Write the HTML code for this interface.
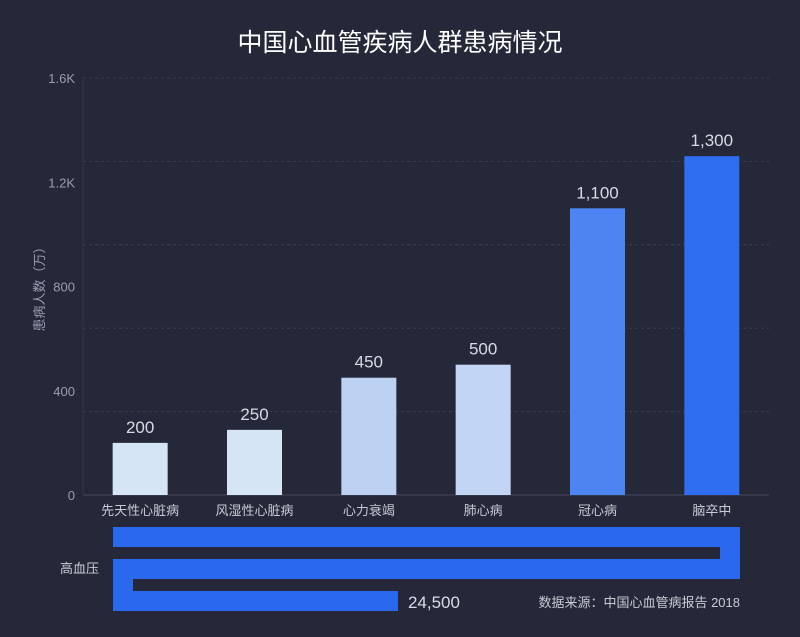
<!DOCTYPE html>
<html><head><meta charset="utf-8"><style>
html,body{margin:0;padding:0;background:#252839;}
body{width:800px;height:632px;overflow:hidden;font-family:"Liberation Sans","Noto Sans CJK SC",sans-serif;}
</style></head><body>
<svg id="chart" width="800" height="632" xmlns="http://www.w3.org/2000/svg" style="font-family:'Liberation Sans','Noto Sans CJK SC',sans-serif">
<rect width="800" height="632" fill="#252839"/>
<text x="400" y="51" text-anchor="middle" fill="#ffffff" font-size="25">中国心血管疾病人群患病情况</text>
<text transform="translate(44,286) rotate(-90)" text-anchor="middle" fill="#9a9db0" font-size="13">患病人数（万）</text>
<g id="grid"></g><g id="ticks"></g><g id="bars"></g><g id="snake"></g>
<text x="740" y="607" text-anchor="end" fill="#c8cad4" font-size="13">数据来源：中国心血管病报告 2018</text>
</svg>
<script>
const categories=["先天性心脏病","风湿性心脏病","心力衰竭","肺心病","冠心病","脑卒中"];
const values=[200,250,450,500,1100,1300];
const valueLabels=["200","250","450","500","1,100","1,300"];
const barColors=["#d6e5f5","#d6e5f5","#bdd2f2","#c2d5f4","#4d84f2","#2f6ef0"];
const yTicks=[0,400,800,1200,1600];
const yTickLabels=["0","400","800","1.2K","1.6K"];
const gridValues=[320,640,960,1280,1600];
const hyperLabel="高血压";
const hyperValue=24500;
const hyperLabelText="24,500";
const NS="http://www.w3.org/2000/svg";
const X0=83,X1=769,Y0=495,Y1=78,YMAX=1600;
const y=v=>Y0-(v/YMAX)*(Y0-Y1);
const band=(X1-X0)/categories.length;
const xc=i=>X0+band*(i+0.5);
function mk(t,a,p){const e=document.createElementNS(NS,t);for(const k in a)e.setAttribute(k,a[k]);(p||document.getElementById('chart')).appendChild(e);return e;}
const grid=document.getElementById('grid');
gridValues.forEach(v=>{const l=mk('line',{x1:X0,x2:X1,y1:y(v),y2:y(v),stroke:'#3b3e52','stroke-dasharray':'3,3'},grid);

});
const ax=mk('line',{x1:X0,x2:X1,y1:Y0,y2:Y0,stroke:'#44475a'},grid);


const ay=mk('line',{x1:X0,x2:X0,y1:Y1,y2:Y0,stroke:'#33364a'},grid);


const ticks=document.getElementById('ticks');
yTicks.forEach((v,i)=>{const t=mk('text',{x:X0-8,y:y(v)+5,'text-anchor':'end',fill:'#9a9db0','font-size':'13'},ticks);t.textContent=yTickLabels[i];

});
const bars=document.getElementById('bars');
const bw=55;
values.forEach((v,i)=>{
const r=mk('rect',{x:xc(i)-bw/2,y:y(v),width:bw,height:Y0-y(v),fill:barColors[i]},bars);


const t=mk('text',{x:xc(i),y:y(v)-10,'text-anchor':'middle',fill:'#d8dae4','font-size':'17'},bars);t.textContent=valueLabels[i];


const c=mk('text',{x:xc(i),y:515,'text-anchor':'middle',fill:'#c8cad4','font-size':'13'},bars);c.textContent=categories[i];


});
// snake bar for hypertension
const snake=document.getElementById('snake');
const SX0=113,SX1=740,TH=20,GAP=12;
const rowLen=SX1-SX0;
const pxPerUnit=(2*rowLen+(rowLen*0.4545))/24500;
let remain=hyperValue*pxPerUnit;
const col='#2a68ee';
const r1=Math.min(remain,rowLen);remain-=r1;
const s1=mk('rect',{x:SX0,y:527,width:r1,height:TH,fill:col},snake);


const c1=mk('rect',{x:SX1-TH,y:527,width:TH,height:TH*2+GAP,fill:col},snake);


const r2=Math.min(remain,rowLen);remain-=r2;
const s2=mk('rect',{x:SX1-r2,y:559,width:r2,height:TH,fill:col},snake);


const c2=mk('rect',{x:SX0,y:559,width:TH,height:TH*2+GAP,fill:col},snake);


const r3=Math.max(remain,TH);
const s3=mk('rect',{x:SX0,y:591,width:r3,height:TH,fill:col},snake);


const hv=mk('text',{x:SX0+r3+10,y:608,fill:'#d8dae4','font-size':'17'},snake);hv.textContent=hyperLabelText;


const hl=mk('text',{x:99,y:573,'text-anchor':'end',fill:'#c8cad4','font-size':'13'},snake);hl.textContent=hyperLabel;


</script>
</body></html>
